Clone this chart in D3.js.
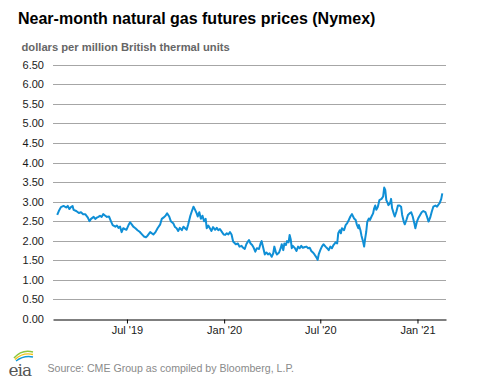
<!DOCTYPE html>
<html>
<head>
<meta charset="utf-8">
<script src="https://cdn.jsdelivr.net/npm/d3@7"></script>
<style>
  html, body { margin: 0; padding: 0; background: #fff; }
  svg { display: block; font-family: "Liberation Sans", Arial, sans-serif; }
</style>
</head>
<body>
<svg id="chart" width="477" height="379"></svg>
<script>
const title = "Near-month natural gas futures prices (Nymex)";
const subtitle = "dollars per million British thermal units";
const source = "Source: CME Group as compiled by Bloomberg, L.P.";

const yTicks = [0, 0.5, 1, 1.5, 2, 2.5, 3, 3.5, 4, 4.5, 5, 5.5, 6, 6.5];
const xTickDates = ["2019-07-01", "2020-01-01", "2020-07-01", "2021-01-01"];
const xDomain = ["2019-02-11", "2021-02-24"];

const dates = [
"2019-02-19","2019-02-22","2019-02-26","2019-03-03","2019-03-08","2019-03-11","2019-03-14","2019-03-17","2019-03-20","2019-03-22",
"2019-03-27","2019-04-01","2019-04-05","2019-04-09","2019-04-13","2019-04-18","2019-04-21","2019-04-24","2019-04-29","2019-05-02",
"2019-05-05","2019-05-08","2019-05-11","2019-05-14","2019-05-17","2019-05-21","2019-05-24","2019-05-28","2019-06-01","2019-06-04",
"2019-06-09","2019-06-12","2019-06-15","2019-06-18","2019-06-21","2019-06-24","2019-06-30","2019-07-04","2019-07-07","2019-07-10",
"2019-07-13","2019-07-17","2019-07-21","2019-07-25","2019-07-29","2019-08-02","2019-08-06","2019-08-09","2019-08-14","2019-08-20",
"2019-08-24","2019-08-28","2019-09-02","2019-09-05","2019-09-08","2019-09-12","2019-09-15","2019-09-19","2019-09-22","2019-09-27",
"2019-09-30","2019-10-03","2019-10-06","2019-10-09","2019-10-13","2019-10-16","2019-10-19","2019-10-22","2019-10-25","2019-10-29",
"2019-11-01","2019-11-04","2019-11-07","2019-11-10","2019-11-12","2019-11-15","2019-11-18","2019-11-21","2019-11-24","2019-11-27",
"2019-11-29","2019-12-02","2019-12-05","2019-12-08","2019-12-11","2019-12-15","2019-12-18","2019-12-21","2019-12-24","2019-12-28",
"2019-12-31","2020-01-03","2020-01-06","2020-01-09","2020-01-12","2020-01-15","2020-01-18","2020-01-23","2020-01-27","2020-01-30",
"2020-02-03","2020-02-06","2020-02-09","2020-02-12","2020-02-15","2020-02-17","2020-02-20","2020-02-23","2020-02-26","2020-02-29",
"2020-03-03","2020-03-07","2020-03-10","2020-03-12","2020-03-15","2020-03-18","2020-03-21","2020-03-24","2020-03-27","2020-03-31",
"2020-04-03","2020-04-05","2020-04-08","2020-04-10","2020-04-14","2020-04-17","2020-04-19","2020-04-22","2020-04-24","2020-04-27",
"2020-04-29","2020-05-02","2020-05-04","2020-05-06","2020-05-08","2020-05-10","2020-05-14","2020-05-17","2020-05-20","2020-05-23",
"2020-05-26","2020-05-29","2020-06-02","2020-06-05","2020-06-08","2020-06-11","2020-06-14","2020-06-17","2020-06-20","2020-06-24",
"2020-06-26","2020-06-28","2020-07-01","2020-07-04","2020-07-07","2020-07-11","2020-07-14","2020-07-17","2020-07-20","2020-07-23",
"2020-07-26","2020-07-30","2020-08-02","2020-08-04","2020-08-07","2020-08-09","2020-08-11","2020-08-15","2020-08-18","2020-08-21",
"2020-08-24","2020-08-27","2020-08-30","2020-09-03","2020-09-06","2020-09-08","2020-09-11","2020-09-12","2020-09-15","2020-09-17",
"2020-09-20","2020-09-22","2020-09-24","2020-09-26","2020-09-28","2020-10-01","2020-10-03","2020-10-06","2020-10-09","2020-10-11",
"2020-10-13","2020-10-15","2020-10-18","2020-10-21","2020-10-25","2020-10-28","2020-10-30","2020-11-01","2020-11-03","2020-11-05",
"2020-11-07","2020-11-10","2020-11-12","2020-11-14","2020-11-17","2020-11-19","2020-11-22","2020-11-25","2020-11-28","2020-12-01",
"2020-12-03","2020-12-06","2020-12-08","2020-12-11","2020-12-14","2020-12-17","2020-12-20","2020-12-23","2020-12-26","2020-12-28",
"2020-12-31","2021-01-03","2021-01-06","2021-01-09","2021-01-12","2021-01-16","2021-01-19","2021-01-22","2021-01-25","2021-01-28",
"2021-01-31","2021-02-04","2021-02-07","2021-02-10","2021-02-12","2021-02-15","2021-02-17"
];
const prices = [
2.66,2.76,2.86,2.89,2.85,2.89,2.81,2.86,2.89,2.79,
2.76,2.71,2.73,2.68,2.68,2.59,2.50,2.56,2.61,2.56,
2.59,2.61,2.64,2.61,2.68,2.64,2.61,2.62,2.49,2.40,
2.36,2.39,2.33,2.36,2.22,2.32,2.28,2.40,2.47,2.42,
2.36,2.32,2.27,2.23,2.17,2.11,2.09,2.13,2.22,2.16,
2.22,2.32,2.42,2.56,2.59,2.64,2.70,2.62,2.50,2.44,
2.35,2.32,2.25,2.33,2.27,2.36,2.32,2.28,2.42,2.64,
2.76,2.87,2.79,2.70,2.62,2.73,2.56,2.64,2.50,2.56,
2.32,2.39,2.32,2.25,2.35,2.28,2.33,2.27,2.30,2.22,
2.16,2.15,2.19,2.16,2.22,2.16,1.98,1.91,1.93,1.85,
1.87,1.82,1.79,1.91,1.98,2.02,1.93,1.89,1.82,1.72,
1.81,1.79,1.93,1.99,1.82,1.65,1.70,1.65,1.68,1.59,
1.68,1.85,1.70,1.65,1.70,1.81,1.91,1.76,1.93,1.89,
1.99,1.96,2.15,2.04,1.81,1.87,1.81,1.74,1.85,1.81,
1.87,1.82,1.84,1.85,1.81,1.82,1.74,1.70,1.65,1.57,
1.51,1.65,1.76,1.85,1.91,1.85,1.81,1.76,1.85,1.81,
1.89,1.96,1.93,2.19,2.27,2.19,2.32,2.27,2.40,2.45,
2.53,2.62,2.68,2.57,2.53,2.42,2.32,2.40,2.27,2.13,
1.98,1.85,2.06,2.23,2.49,2.57,2.53,2.62,2.70,2.83,
2.90,2.79,2.87,3.04,3.07,3.13,3.36,3.30,3.04,2.98,
2.91,2.96,3.07,2.83,2.70,2.62,2.74,2.90,2.90,2.87,
2.66,2.49,2.42,2.53,2.66,2.70,2.73,2.62,2.45,2.32,
2.49,2.59,2.66,2.73,2.76,2.73,2.62,2.49,2.59,2.74,
2.87,2.90,2.87,2.93,2.96,3.07,3.21
];

const parse = d3.utcParse("%Y-%m-%d");
const data = dates.map((d, i) => ({ date: parse(d), value: prices[i] }));

const svg = d3.select("#chart");
const plot = { left: 53, right: 446, top: 64.7, bottom: 319 };

const x = d3.scaleUtc().domain(xDomain.map(parse)).range([plot.left, plot.right]);
const y = d3.scaleLinear().domain([0, 6.5]).range([plot.bottom, plot.top]);

// Title / subtitle
svg.append("text").attr("x", 18).attr("y", 24)
  .attr("font-size", 16).attr("font-weight", "bold").attr("fill", "#000")
  .text(title);
svg.append("text").attr("x", 21.5).attr("y", 50.5)
  .attr("font-size", 11.2).attr("font-weight", "bold").attr("fill", "#666")
  .text(subtitle);

// Grid lines
svg.append("g").selectAll("line").data(yTicks.filter(t => t > 0)).join("line")
  .attr("x1", plot.left).attr("x2", plot.right)
  .attr("y1", d => Math.round(y(d)) + 0.5).attr("y2", d => Math.round(y(d)) + 0.5)
  .attr("stroke", "#a6a6a6").attr("stroke-width", 1);

// Y axis labels
const yAxis = d3.axisLeft(y).tickValues(yTicks).tickFormat(d3.format(".2f")).tickSize(0).tickPadding(9);
const gy = svg.append("g").attr("transform", `translate(${plot.left},0)`).call(yAxis);
gy.select(".domain").remove();
gy.selectAll("text").attr("font-family", "Liberation Sans, Arial, sans-serif")
  .attr("font-size", 11).attr("fill", "#1a1a1a");

// Line
const line = d3.line().x(d => x(d.date)).y(d => y(d.value)).curve(d3.curveLinear);
svg.append("path").datum(data)
  .attr("d", line).attr("fill", "none")
  .attr("stroke", "#0f8fd6").attr("stroke-width", 2).attr("stroke-linejoin", "round");

// X axis
const xAxis = d3.axisBottom(x).tickValues(xTickDates.map(parse))
  .tickFormat(d3.utcFormat("%b '%y")).tickSize(4).tickSizeOuter(0).tickPadding(3);
const gx = svg.append("g").attr("transform", `translate(0,${Math.round(plot.bottom) + 0.5})`).call(xAxis);
gx.select(".domain").attr("stroke", "#000").attr("stroke-width", 1.2);
gx.selectAll(".tick line").attr("stroke", "#000");
gx.selectAll("text").attr("font-family", "Liberation Sans, Arial, sans-serif")
  .attr("font-size", 11).attr("fill", "#1a1a1a");

// Source
svg.append("text").attr("x", 47.5).attr("y", 371.5)
  .attr("font-size", 10.6).attr("fill", "#8a8a8a").text(source);

// EIA logo
const logo = svg.append("g");
logo.append("path").attr("d", "M14,358 Q22,349 33,352").attr("fill", "none").attr("stroke", "#8cc63e").attr("stroke-width", 1.6);
logo.append("path").attr("d", "M15,359.5 Q23,352 33,354.5").attr("fill", "none").attr("stroke", "#f2c319").attr("stroke-width", 1.4);
logo.append("path").attr("d", "M16,361 Q24,355 33,357").attr("fill", "none").attr("stroke", "#129ad7").attr("stroke-width", 1.4);
logo.append("text").attr("x", 8.5).attr("y", 375.5)
  .attr("font-family", "DejaVu Serif, serif").attr("font-size", 17).attr("fill", "#555")
  .attr("letter-spacing", -1).text("eia");
</script>
</body>
</html>
